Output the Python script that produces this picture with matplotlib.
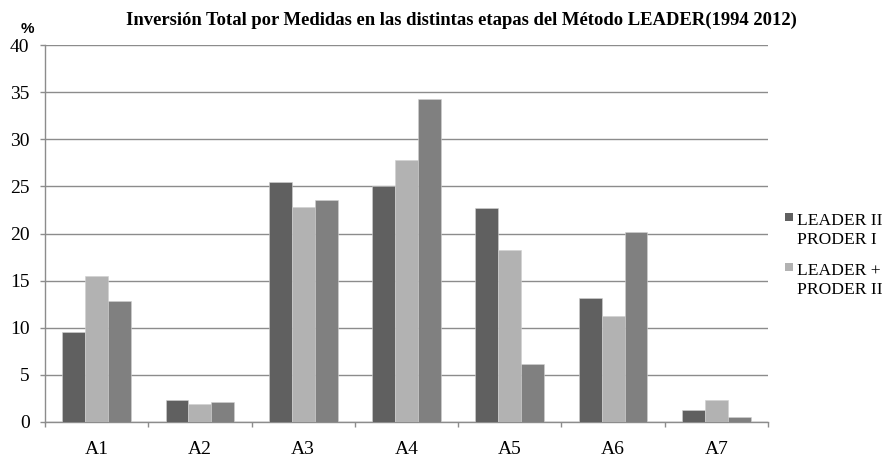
import matplotlib
matplotlib.use("Agg")
import matplotlib.pyplot as plt
import numpy as np
from matplotlib.patches import Rectangle

categories = ["A1", "A2", "A3", "A4", "A5", "A6", "A7"]
series_names = [["LEADER II", "PRODER I"], ["LEADER +", "PRODER II"], ["LEADER 2007-2013"]]
leader2 = [9.6, 2.3, 25.5, 25.0, 22.7, 13.2, 1.3]
leader_plus = [15.5, 1.9, 22.8, 27.8, 18.2, 11.2, 2.3]
leader_07 = [12.8, 2.1, 23.6, 34.3, 6.2, 20.2, 0.5]
colors = ["#606060", "#b2b2b2", "#808080"]

plt.rcParams['font.family'] = ['Liberation Serif', 'DejaVu Serif']

W, H = 883, 458
fig = plt.figure(figsize=(W / 100, H / 100), dpi=100)
ax = fig.add_axes([45 / W, 1 - 422 / H, (768 - 45) / W, (422 - 45) / H])

x = np.arange(len(categories))
w = 0.222
for i, vals in enumerate([leader2, leader_plus, leader_07]):
    ax.bar(x + (i - 1) * w, vals, width=w, color=colors[i], zorder=3,
           edgecolor="#d0d0d0", linewidth=0.4)

ax.set_xlim(-0.5, len(categories) - 0.5)
ax.set_ylim(0, 40)
ax.set_yticks(np.arange(0, 41, 5))
ax.yaxis.grid(True, color="#8c8c8c", linewidth=1.0, zorder=0)
ax.set_axisbelow(True)

ax.set_xticks(x)
ax.set_xticklabels(categories, fontsize=14)
ax.set_xticks(np.arange(-0.5, len(categories), 1), minor=True)
ax.tick_params(axis="x", which="major", length=0, pad=13.5)
ax.tick_params(axis="x", which="minor", length=3.6, color="#8c8c8c", width=1)
ax.tick_params(axis="y", length=3.6, color="#8c8c8c", width=1, labelsize=14, pad=7.5)

for s in ["top", "right"]:
    ax.spines[s].set_visible(False)
for s in ["left", "bottom"]:
    ax.spines[s].set_color("#8c8c8c")
    ax.spines[s].set_linewidth(1.0)

fig.text(461 / W, 1 - 20 / H, "Inversión Total por Medidas en las distintas etapas del Método LEADER(1994 2012)",
         ha="center", va="center", fontsize=13.4, fontweight="bold")
fig.text(27.5 / W, 1 - 29 / H, "%", ha="center", va="center", fontsize=11, fontweight="bold",
         family=["Liberation Sans", "DejaVu Sans"])

# legend (third series is not listed in the original)
for i, (top, names) in enumerate([(213, series_names[0]), (263, series_names[1])]):
    fig.patches.append(Rectangle((785 / W, 1 - (top + 8) / H), 8 / W, 8 / H,
                                 transform=fig.transFigure, facecolor=colors[i],
                                 edgecolor="none"))
    for j, line in enumerate(names):
        fig.text(797 / W, 1 - (top + 12 + 19.5 * j) / H, line, ha="left", va="baseline",
                 fontsize=12.6)

fig.savefig("out.png", dpi=100)
